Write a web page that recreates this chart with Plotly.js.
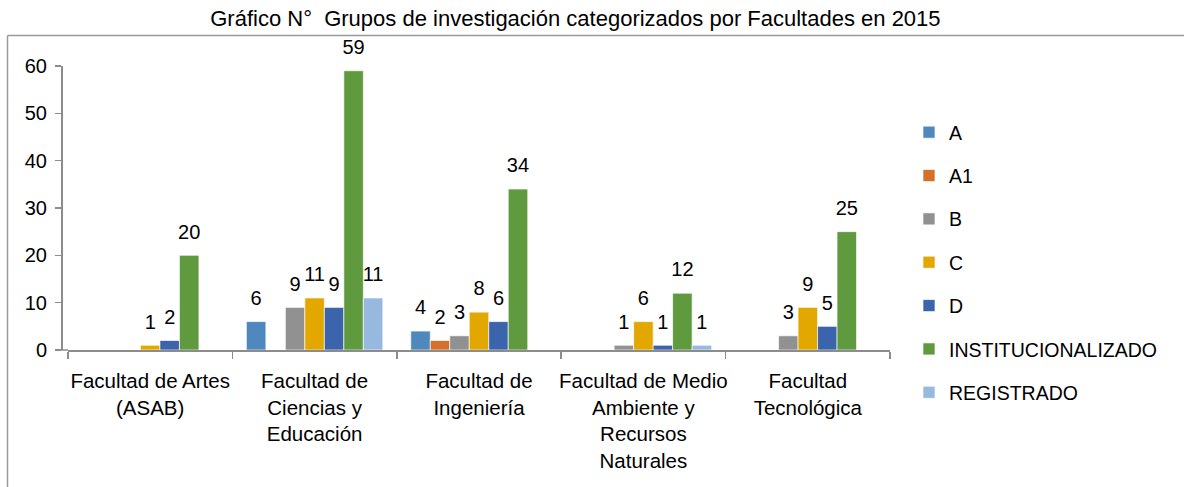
<!DOCTYPE html>
<html>
<head>
<meta charset="utf-8">
<script src="https://cdn.plot.ly/plotly-3.0.1.min.js"></script>
<style>html,body{margin:0;padding:0;background:#fff;}#chart{width:1184px;height:487px;}</style>
</head>
<body>
<div id="chart"></div>
<script>
const categories = [
  "Facultad de Artes<br>(ASAB)",
  "Facultad de<br>Ciencias y<br>Educación",
  "Facultad de<br>Ingeniería",
  "Facultad de Medio<br>Ambiente y<br>Recursos<br>Naturales",
  "Facultad<br>Tecnológica"
];
const seriesNames = ["A", "A1", "B", "C", "D", "INSTITUCIONALIZADO", "REGISTRADO"];
const valuesA    = [null, 6, 4, null, null];
const valuesA1   = [null, null, 2, null, null];
const valuesB    = [null, 9, 3, 1, 3];
const valuesC    = [1, 11, 8, 6, 9];
const valuesD    = [2, 9, 6, 1, 5];
const valuesINST = [20, 59, 34, 12, 25];
const valuesREG  = [null, 11, null, 1, null];
const seriesValues = [valuesA, valuesA1, valuesB, valuesC, valuesD, valuesINST, valuesREG];
const colors = ["#4f88bd", "#d5702b", "#919191", "#e3a800", "#3c64ac", "#5f9a3e", "#97b8df"];

const FONT = "Liberation Sans, Arial, sans-serif";

const traces = seriesNames.map((name, i) => ({
  type: "bar",
  name: name,
  x: categories,
  y: seriesValues[i],
  marker: {color: colors[i], line: {color: "rgba(255,255,255,0.8)", width: 0.8}},
  text: seriesValues[i].map(v => v === null ? "" : "<span style='font-size:20px'>" + v + "</span><br>\u00a0"),
  textposition: "outside",
  constraintext: "none",
  cliponaxis: false,
  textfont: {family: FONT, size: 9, color: "#000"},
  legendgroup: "g" + i,
  hoverinfo: "x+y+name"
}));

const L = 61, R = 294, T = 66, B = 137;
const W = 1184, H = 487;
const pw = W - L - R, ph = H - T - B;
const px = x => (x - L) / pw;
const py = y => (H - B - y) / ph;

const layout = {
  width: W, height: H,
  margin: {l: L, r: R, t: T, b: B},
  paper_bgcolor: "#fff",
  plot_bgcolor: "#fff",
  font: {family: FONT, size: 20, color: "#000"},
  title: {
    text: "Gráfico N°  Grupos de investigación categorizados por Facultades en 2015",
    font: {family: FONT, size: 22, color: "#000"},
    x: 0.486, xanchor: "center", y: 0.962, yanchor: "middle"
  },
  barmode: "group",
  bargap: 0.17,
  bargroupgap: 0,
  showlegend: true,
  legend: {
    x: px(909), xanchor: "left", y: py(113), yanchor: "top",
    font: {family: FONT, size: 19.5, color: "#000"},
    traceorder: "grouped",
    tracegroupgap: 15,
    itemwidth: 30,
    maxheight: 600,
    bgcolor: "rgba(0,0,0,0)"
  },
  xaxis: {
    domain: [px(68), 1],
    type: "category",
    tickangle: 0,
    showline: true, linecolor: "#8c8c8c", linewidth: 1.5,
    ticks: "outside", ticklen: 7, tickcolor: "#8c8c8c", tickwidth: 1.5,
    tickson: "boundaries",
    ticklabelstandoff: 12,
    showgrid: false, zeroline: false,
    tickfont: {family: FONT, size: 20.5, color: "#000"},
    fixedrange: true
  },
  yaxis: {
    range: [0, 60],
    tickvals: [0, 10, 20, 30, 40, 50, 60],
    anchor: "free", position: 0,
    showline: true, linecolor: "#8c8c8c", linewidth: 1.5,
    ticks: "outside", ticklen: 6, tickcolor: "#8c8c8c", tickwidth: 1.5,
    showgrid: false, zeroline: false,
    tickfont: {family: FONT, size: 20, color: "#000"},
    ticklabelstandoff: 4,
    fixedrange: true
  },
  shapes: [
    {type: "line", xref: "paper", yref: "paper", x0: 0, x1: px(68), y0: 0, y1: 0,
     line: {color: "#8c8c8c", width: 1.5}},
    {type: "line", xref: "paper", yref: "paper", x0: px(7.5), x1: px(7.5), y0: py(35.5), y1: py(490),
     line: {color: "#9a9a9a", width: 1.5}},
    {type: "line", xref: "paper", yref: "paper", x0: px(7.5), x1: px(1190), y0: py(35.5), y1: py(35.5),
     line: {color: "#9a9a9a", width: 1.5}}
  ]
};

Plotly.newPlot("chart", traces, layout, {displayModeBar: false, staticPlot: true});
</script>
</body>
</html>
